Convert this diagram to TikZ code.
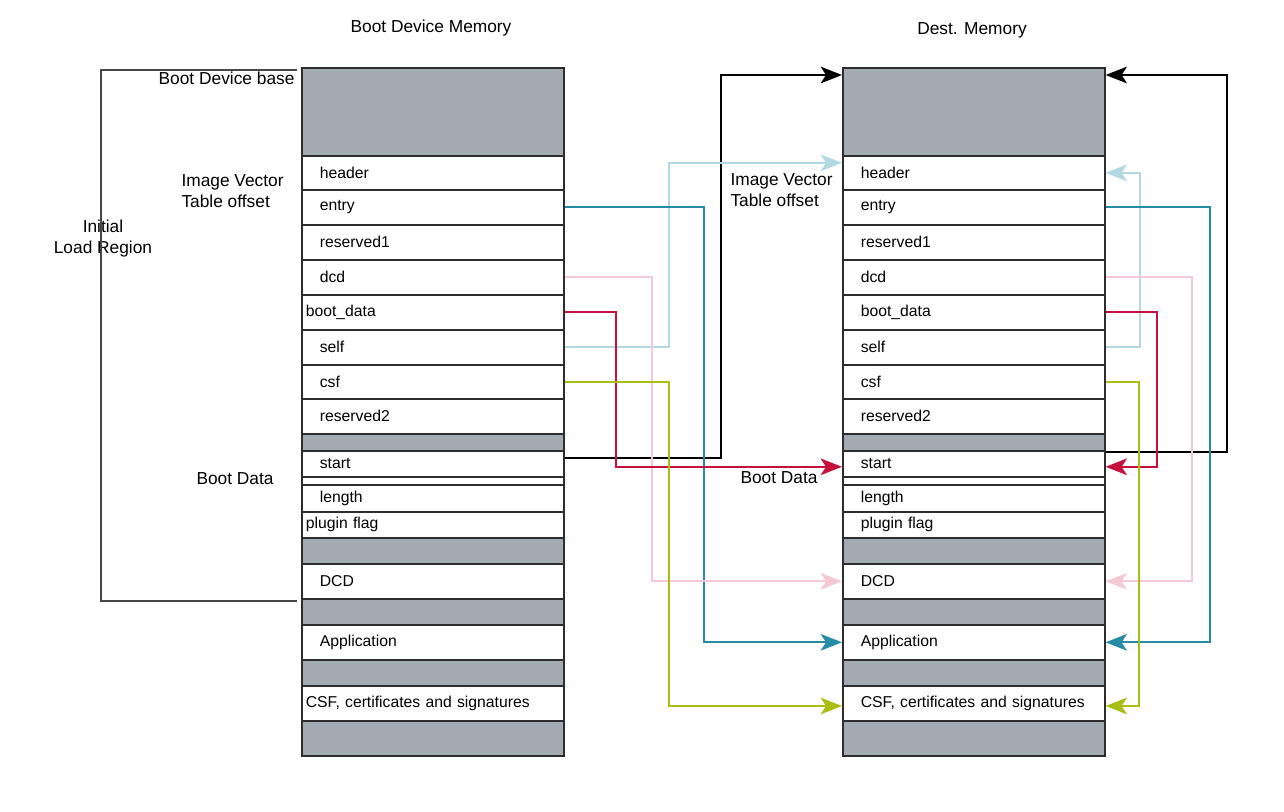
\documentclass[tikz,border=0pt]{standalone}
\usepackage{fontspec}
\setmainfont{Liberation Sans}
\usetikzlibrary{arrows.meta,calc}

\tikzset{every picture/.style={line width=0.75pt}}
\tikzset{
  cell/.style={draw={rgb, 255:red, 45; green, 45; blue, 45}, line width=1.2pt, fill=white, anchor=north west,
    minimum width=196.5pt, inner ysep=0pt, inner xsep=13.5pt, text width=169.5pt, align=left,
    font=\fontsize{11.8}{13}\selectfont},
  cellnear/.style={cell, inner xsep=3pt, text width=190.5pt},
  shade/.style={cell, fill={rgb, 255:red, 162; green, 170; blue, 179}},
  lbl/.style={inner sep=0.75pt, font=\fontsize{13}{15.75}\selectfont},
  head/.style={-{Stealth[length=16pt,width=12.5pt,inset=4pt]}},
  blackln/.style={draw=black, line width=1.4pt, head},
  tealln/.style={draw={rgb, 255:red, 38; green, 140; blue, 166}, line width=1.4pt, head},
  pinkln/.style={draw={rgb, 255:red, 244; green, 200; blue, 212}, line width=1.4pt, head},
  redln/.style={draw={rgb, 255:red, 200; green, 16; blue, 60}, line width=1.4pt, head},
  skyln/.style={draw={rgb, 255:red, 178; green, 216; blue, 227}, line width=1.4pt, head},
  oliveln/.style={draw={rgb, 255:red, 168; green, 190; blue, 20}, line width=1.4pt, head}
}

\begin{document}
\begin{tikzpicture}[x=0.75pt,y=0.75pt,yscale=-1,xscale=1]
    \useasboundingbox (0,0) rectangle (1284,811);

    % Titles
    \node[lbl] (ltitle) at (431,28) {Boot Device Memory};
    \node[lbl] (rtitle) at (972,30) {Dest. Memory};

    %Boot device memory column
    \node[shade, minimum height=66pt] (ltop) at (301,67) {};
    \node[cell, minimum height=25.5pt] (lhdr) at (301,155) {header};
    \node[cell, minimum height=26.25pt] (lentry) at (301,189) {entry};
    \node[cell, minimum height=26.25pt] (lres1) at (301,224) {reserved1};
    \node[cell, minimum height=26.25pt] (ldcd) at (301,259) {dcd};
    \node[cellnear, minimum height=26.25pt] (lboot) at (301,294) {boot\_data};
    \node[cell, minimum height=26.25pt] (lself) at (301,329) {self};
    \node[cell, minimum height=25.5pt] (lcsf) at (301,364) {csf};
    \node[cell, minimum height=26.25pt] (lres2) at (301,398) {reserved2};
    \node[shade, minimum height=12.75pt] (lgapa) at (301,433) {};
    \node[cell, minimum height=19.5pt] (lstart) at (301,450) {start};
    \node[cell, minimum height=6pt] (lthin) at (301,476) {};
    \node[cell, minimum height=20.25pt] (llen) at (301,484) {length};
    \node[cellnear, minimum height=19.5pt] (lplug) at (301,511) {plugin flag};
    \node[shade, minimum height=19.5pt] (lgapb) at (301,537) {};
    \node[cell, minimum height=26.25pt] (ldcdtab) at (301,563) {DCD};
    \node[shade, minimum height=19.5pt] (lgapc) at (301,598) {};
    \node[cell, minimum height=26.25pt] (lapp) at (301,624) {Application};
    \node[shade, minimum height=19.5pt] (lgapd) at (301,659) {};
    \node[cellnear, minimum height=26.25pt] (lcsftab) at (301,685) {CSF, certificates and signatures};
    \node[shade, minimum height=26.25pt] (lbot) at (301,720) {};

    %Dest. memory column
    \node[shade, minimum height=66pt] (rtop) at (842,67) {};
    \node[cell, minimum height=25.5pt] (rhdr) at (842,155) {header};
    \node[cell, minimum height=26.25pt] (rentry) at (842,189) {entry};
    \node[cell, minimum height=26.25pt] (rres1) at (842,224) {reserved1};
    \node[cell, minimum height=26.25pt] (rdcd) at (842,259) {dcd};
    \node[cell, minimum height=26.25pt] (rboot) at (842,294) {boot\_data};
    \node[cell, minimum height=26.25pt] (rself) at (842,329) {self};
    \node[cell, minimum height=25.5pt] (rcsf) at (842,364) {csf};
    \node[cell, minimum height=26.25pt] (rres2) at (842,398) {reserved2};
    \node[shade, minimum height=12.75pt] (rgapa) at (842,433) {};
    \node[cell, minimum height=19.5pt] (rstart) at (842,450) {start};
    \node[cell, minimum height=6pt] (rthin) at (842,476) {};
    \node[cell, minimum height=20.25pt] (rlen) at (842,484) {length};
    \node[cell, minimum height=19.5pt] (rplug) at (842,511) {plugin flag};
    \node[shade, minimum height=19.5pt] (rgapb) at (842,537) {};
    \node[cell, minimum height=26.25pt] (rdcdtab) at (842,563) {DCD};
    \node[shade, minimum height=19.5pt] (rgapc) at (842,598) {};
    \node[cell, minimum height=26.25pt] (rapp) at (842,624) {Application};
    \node[shade, minimum height=19.5pt] (rgapd) at (842,659) {};
    \node[cell, minimum height=26.25pt] (rcsftab) at (842,685) {CSF, certificates and signatures};
    \node[shade, minimum height=26.25pt] (rbot) at (842,720) {};

    % Text Node
    \node[lbl, anchor=east] (lbase) at (296,78) {Boot Device base};
    % Text Node
    \node[lbl, anchor=north west, align=left] (livt) at (180,173) {Image Vector\\Table offset};
    % Text Node
    \node[lbl, align=center] (lregion) at (103,239) {Initial\\Load Region};
    % Text Node
    \node[lbl, anchor=west] (lbootdata) at (195,479) {Boot Data};
    % Text Node
    \node[lbl, anchor=north west, align=left] (rivt) at (729,172) {Image Vector\\Table offset};
    % Text Node
    \node[lbl, anchor=west] (rbootdata) at (739,478) {Boot Data};

    %Initial load region bracket
    \draw[draw={rgb, 255:red, 70; green, 70; blue, 70}, line width=0.9pt]
      ([xshift=-3pt,yshift=2.25pt]ltop.north west) -- ++(-196,0) |- ([xshift=-3pt,yshift=2.25pt]lgapc.north west);

    %Connectors, boot device side
    \draw[blackln] ([yshift=-4.5pt]lstart.east) -- ++(156,0) |- ([yshift=6pt]rtop.north west);
    \draw[skyln] (lself.east) -- ++(104,0) |- ([yshift=-7.5pt]rhdr.west);
    \draw[tealln] (lentry.east) -- ++(139,0) |- (rapp.west);
    \draw[pinkln] (ldcd.east) -- ++(87,0) |- (rdcdtab.west);
    \draw[redln] (lboot.east) -- ++(51,0) |- ([yshift=2.25pt]rstart.west);
    \draw[oliveln] (lcsf.east) -- ++(104,0) |- ([yshift=2pt]rcsftab.west);

    %Connectors, dest. side
    \draw[blackln] (rgapa.south east) -- ++(121,0) |- ([yshift=6pt]rtop.north east);
    \draw[skyln] (rself.east) -- ++(34,0) |- (rhdr.east);
    \draw[tealln] (rentry.east) -- ++(104,0) |- (rapp.east);
    \draw[pinkln] (rdcd.east) -- ++(86,0) |- (rdcdtab.east);
    \draw[redln] (rboot.east) -- ++(51,0) |- ([yshift=2.25pt]rstart.east);
    \draw[oliveln] (rcsf.east) -- ++(33,0) |- ([yshift=2pt]rcsftab.east);

\end{tikzpicture}
\end{document}
